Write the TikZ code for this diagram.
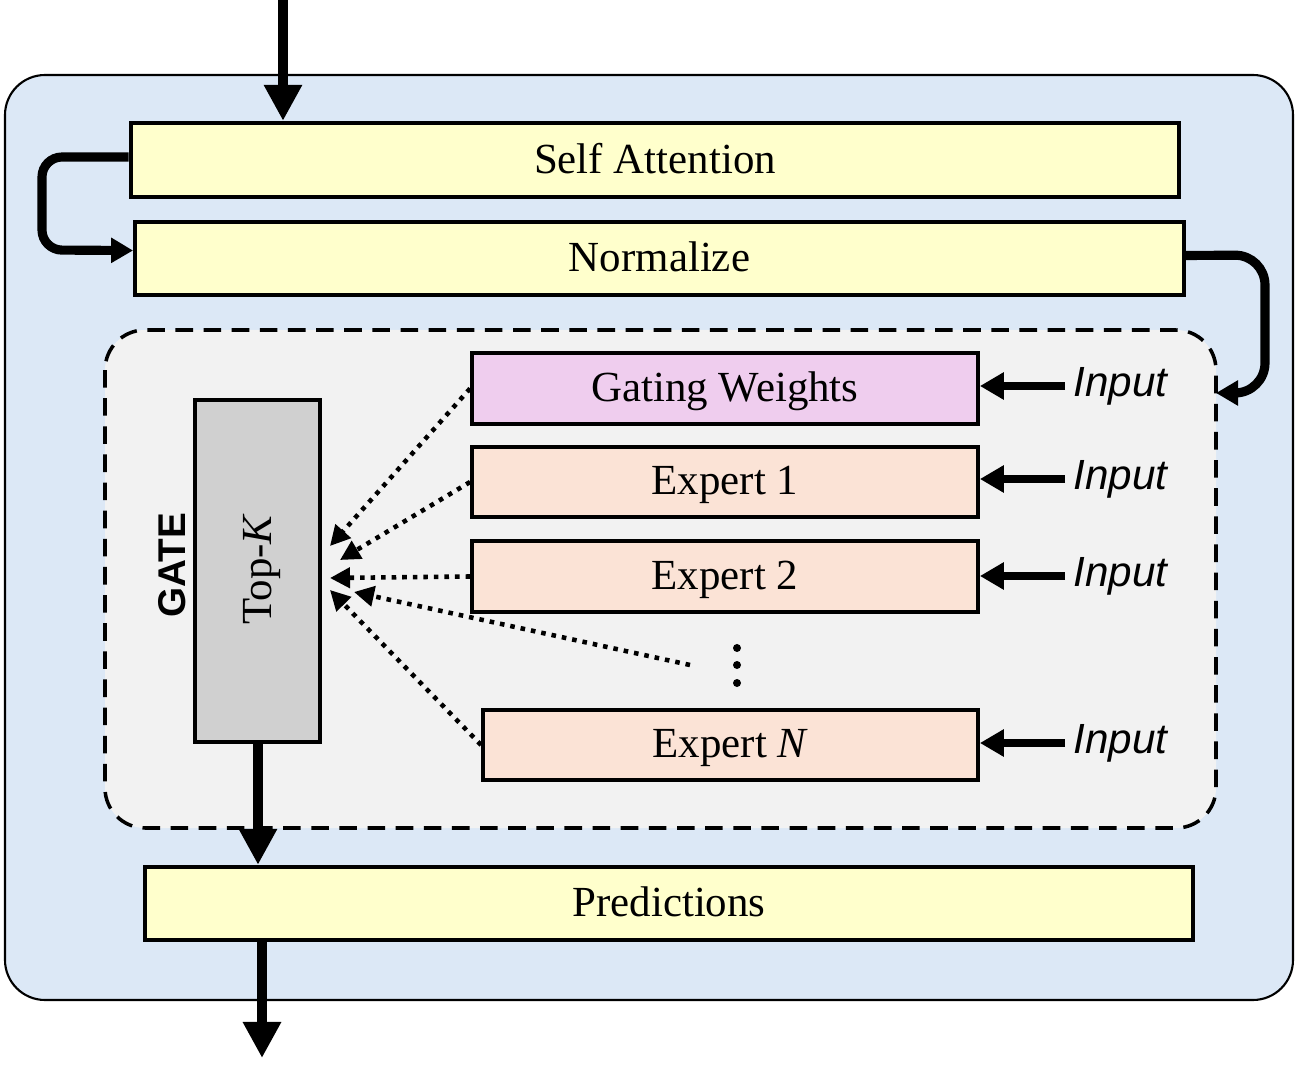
\documentclass[tikz,border=0pt]{standalone}
\usepackage{fontspec}
\setmainfont{Liberation Serif}
\setsansfont{Liberation Sans}
\usetikzlibrary{arrows.meta,calc}
\definecolor{bgblue}{HTML}{DCE8F6}
\definecolor{innergray}{HTML}{F2F2F2}
\definecolor{boxyellow}{HTML}{FFFFCC}
\definecolor{gatepink}{HTML}{EFCDEE}
\definecolor{expeach}{HTML}{FBE3D6}
\definecolor{topgray}{HTML}{D0D0D0}
\begin{document}
\begin{tikzpicture}[x=0.01cm,y=-0.01cm,
  box/.style={draw=black,line width=1.2pt,inner sep=0pt,text depth=0.2ex,font=\fontsize{12.2}{14}\selectfont},
  ybox/.style={box,fill=boxyellow,minimum width=10.48cm,minimum height=0.74cm},
  ebox/.style={box,fill=expeach,line width=1pt,minimum width=5.06cm,minimum height=0.71cm},
  bigarrow/.style={line width=2.6pt,-{Triangle[width=0.36cm,length=0.36cm]}},
  looparrow/.style={line width=2.6pt,rounded corners=0.2cm,-{Triangle[width=0.24cm,length=0.22cm]}},
  inarrow/.style={line width=2.4pt,-{Triangle[width=0.26cm,length=0.24cm]}},
  dotarrow/.style={line width=1.3pt,dash pattern=on 1.3pt off 1.7pt,-{Triangle[width=0.2cm,length=0.2cm]}},
  inlabel/.style={anchor=west,inner sep=0pt,font=\sffamily\itshape\fontsize{12}{14}\selectfont}
]
\useasboundingbox (0,0) rectangle (1299,1076);
% outer container
\draw[fill=bgblue,line width=0.6pt,rounded corners=0.4cm] (5,75) rectangle (1293,1000);
% inner dashed container
\draw[fill=innergray,line width=1pt,dashed,dash pattern=on 5pt off 3pt,rounded corners=0.4cm] (105,330) rectangle (1216,828);

% main boxes
\node[ybox] (sa) at (655,160) {Self Attention};
\node[ybox,minimum height=0.73cm] (norm) at (659.5,258.5) {Normalize};
\node[ybox,minimum height=0.73cm] (pred) at (669,903.5) {Predictions};

% gate area
\node[box,fill=gatepink,line width=1pt,minimum width=5.06cm,minimum height=0.71cm] (gw) at (725,388.5) {Gating Weights};
\node[ebox,minimum height=0.70cm] (e1) at (725,482) {Expert 1};
\node[ebox] (e2) at (725,576.5) {Expert 2};
\node[ebox,minimum width=4.95cm,minimum height=0.70cm] (en) at (730.5,745) {Expert \textit{N}};
\node[box,fill=topgray,line width=1pt,minimum width=1.25cm,minimum height=3.42cm] (topk) at (257.5,571) {};
\node[rotate=90,font=\fontsize{12.2}{14}\selectfont] (topklabel) at (262,569) {Top-\textit{K}};
\node[rotate=90,font=\sffamily\bfseries\fontsize{11}{13}\selectfont] (gate) at (172,565) {GATE};

% dots
\coordinate (dots) at (737,665);
\fill (737,648) circle (0.04cm) (737,665) circle (0.04cm) (737,683) circle (0.04cm);
\coordinate (dotsL) at (690,665);

% input arrows
\node[inlabel] (in0) at (1073,386) {Input};
\node[inlabel] (in1) at (1073,479) {Input};
\node[inlabel] (in2) at (1073,576) {Input};
\node[inlabel] (in3) at (1073,743) {Input};
\draw[inarrow] ($(in0.west)+(-8,0)$) -- (gw.east |- in0.west);
\draw[inarrow] ($(in1.west)+(-8,0)$) -- (e1.east |- in1.west);
\draw[inarrow] ($(in2.west)+(-8,0)$) -- (e2.east |- in2.west);
\draw[inarrow] ($(in3.west)+(-8,0)$) -- (en.east |- in3.west);

% dotted arrows into top-k
\coordinate (t0) at (330,546);
\coordinate (t1) at (340,560);
\coordinate (t2) at (330,578);
\coordinate (t3) at (354,592);
\coordinate (t4) at (330,590);
\draw[dotarrow] (gw.west) -- (t0);
\draw[dotarrow] (e1.west) -- (t1);
\draw[dotarrow] (e2.west) -- (t2);
\draw[dotarrow] (dotsL) -- (t3);
\draw[dotarrow] (en.west) -- (t4);

% main flow arrows
\coordinate (topin) at (283,0);
\draw[bigarrow] (topin) -- (sa.north -| topin);
\draw[looparrow] (sa.west |- 0,157) -- (42,157) -- (42,250) -- ($(norm.west)+(0,-8)$);
\coordinate (gatein) at (1216,393);
\draw[looparrow,rounded corners=0.3cm] ($(norm.east)+(0,-3)$) -- (1265,255) -- (1265,393) -- (gatein);
\draw[bigarrow] (topk.south -| 258,0) -- (pred.north -| 258,0);
\coordinate (out) at (262,1058);
\draw[bigarrow] (pred.south -| out) -- (out);
\end{tikzpicture}
\end{document}
